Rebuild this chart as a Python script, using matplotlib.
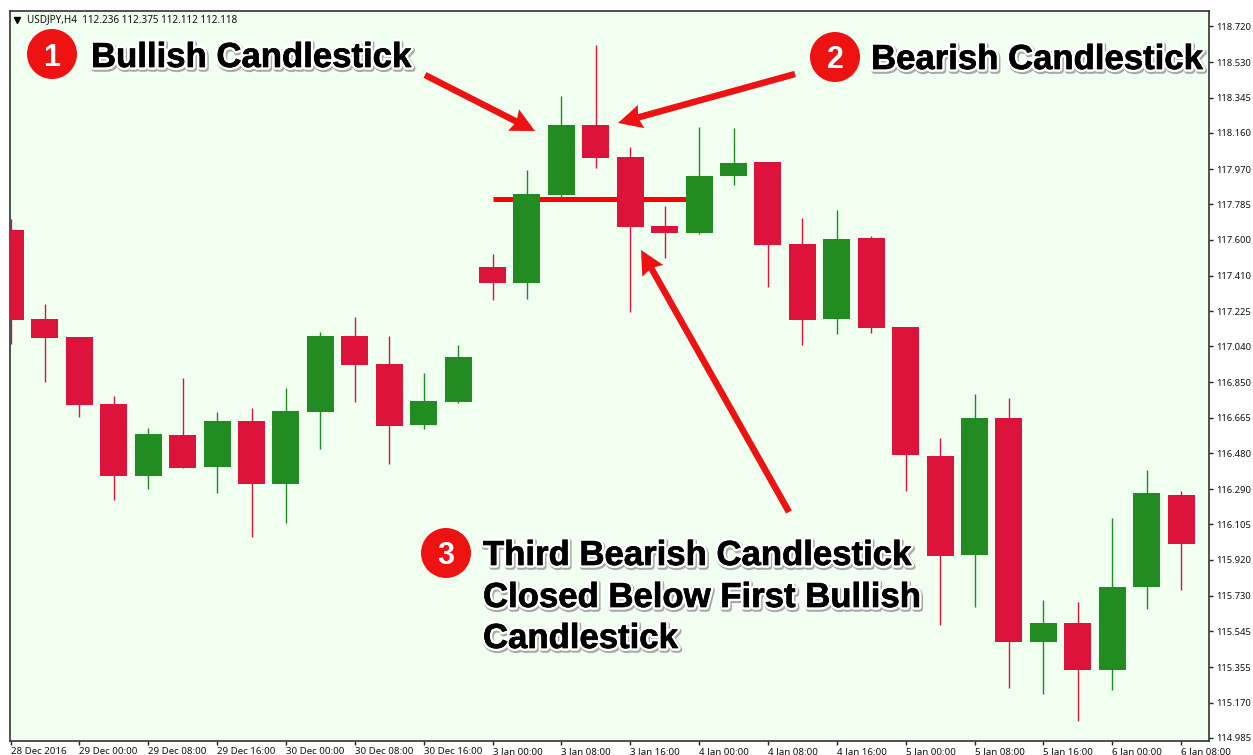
import matplotlib
matplotlib.use('Agg')
import matplotlib.pyplot as plt
import matplotlib.patheffects as pe
import numpy as np

# USDJPY H4 candles
opens = [117.650, 117.183, 117.088, 116.737, 116.359, 116.574, 116.407, 116.648, 116.317,
         116.695, 117.094, 116.947, 116.627, 116.748, 117.456, 117.372, 117.833, 118.201,
         118.033, 117.671, 117.634, 117.933, 118.007, 117.576, 117.183, 117.608, 117.141,
         116.464, 115.945, 116.664, 115.488, 115.588, 115.342, 115.777, 116.260]
highs = [117.708, 117.262, 117.088, 116.779, 116.611, 116.873, 116.695, 116.716, 116.821,
         117.115, 117.193, 117.094, 116.900, 117.047, 117.524, 117.965, 118.353, 118.620,
         118.085, 117.776, 118.190, 118.185, 118.007, 117.713, 117.755, 117.618, 117.141,
         116.559, 116.789, 116.768, 115.709, 115.698, 116.139, 116.391, 116.281]
lows = [117.052, 116.852, 116.669, 116.233, 116.291, 116.401, 116.270, 116.039, 116.113,
        116.501, 116.748, 116.422, 116.606, 116.742, 117.283, 117.288, 117.823, 117.975,
        117.220, 117.503, 117.629, 117.886, 117.351, 117.047, 117.104, 117.109, 116.281,
        115.578, 115.672, 115.247, 115.216, 115.074, 115.237, 115.662, 115.761]
closes = [117.178, 117.083, 116.732, 116.359, 116.580, 116.401, 116.648, 116.317, 116.700,
          117.094, 116.942, 116.622, 116.753, 116.984, 117.372, 117.839, 118.201, 118.028,
          117.666, 117.634, 117.933, 118.001, 117.571, 117.178, 117.603, 117.136, 116.469,
          115.940, 116.664, 115.488, 115.588, 115.342, 115.777, 116.270, 116.003]

level = 117.811  # close of the first bullish candle
level_from = 14
level_to = 20

y_ticks = [118.720, 118.530, 118.345, 118.160, 117.970, 117.785, 117.600, 117.410, 117.225,
           117.040, 116.850, 116.665, 116.480, 116.290, 116.105, 115.920, 115.730, 115.545,
           115.355, 115.170, 114.985]
x_labels = ['28 Dec 2016', '29 Dec 00:00', '29 Dec 08:00', '29 Dec 16:00', '30 Dec 00:00',
            '30 Dec 08:00', '30 Dec 16:00', '3 Jan 00:00', '3 Jan 08:00', '3 Jan 16:00',
            '4 Jan 00:00', '4 Jan 08:00', '4 Jan 16:00', '5 Jan 00:00', '5 Jan 08:00',
            '5 Jan 16:00', '6 Jan 00:00', '6 Jan 08:00']

GREEN = '#228B22'
CRIMSON = '#DC143C'
RED = '#EE1212'
W, H = 1253, 755

plt.rcParams['font.family'] = ['Noto Sans', 'DejaVu Sans']

fig = plt.figure(figsize=(W / 100, H / 100), dpi=100, facecolor='white')
ax = fig.add_axes([10 / W, 1 - 741 / H, 1199 / W, 730 / H], facecolor='#F0FFF0')

x = np.arange(len(opens))
o, h, l, c = map(np.array, (opens, highs, lows, closes))
colors = [GREEN if cl > op else CRIMSON for op, cl in zip(opens, closes)]

ax.hlines(level, level_from, level_to, color='#FF0000', linewidth=3.6, zorder=1)
ax.vlines(x, l, h, color=colors, linewidth=1.0, zorder=2)
ax.bar(x, np.abs(c - o), bottom=np.minimum(o, c), width=0.784, color=colors, zorder=3)

ax.set_xlim(-0.015, 34.81)
ax.set_ylim(114.969, 118.799)

ax.yaxis.tick_right()
ax.set_yticks(y_ticks)
ax.set_yticklabels([f'{v:.3f}' for v in y_ticks])
ax.set_xticks(x[::2])
ax.set_xticklabels(x_labels, ha='left')
ax.tick_params(axis='both', length=3, width=1, color='#222222', labelsize=6.8,
               labelcolor='#111111', pad=2)
ax.tick_params(axis='x', pad=1.5, labelsize=7)
for s in ax.spines.values():
    s.set_color('#333333')
    s.set_linewidth(1.2)

# overlay in picture pixels for the annotations
ov = fig.add_axes([0, 0, 1, 1], facecolor='none')
ov.set_xlim(0, W)
ov.set_ylim(H, 0)
ov.axis('off')

ov.text(27, 19.5, 'USDJPY,H4  112.236 112.375 112.112 112.118', fontsize=7.15,
        color='#111111', va='center', ha='left')
ov.plot([17], [19.5], marker='v', markersize=4.5, color='black')

arrows = [((425, 75), (535, 131)), ((795, 74), (618, 123)), ((789, 512), (641, 250))]
for (x0, y0), (x1, y1) in arrows:
    ov.arrow(x0, y0, x1 - x0, y1 - y0, width=6.5, head_width=24, head_length=24, overhang=0.1,
             length_includes_head=True, color=RED, linewidth=0)

effects = [pe.Stroke(linewidth=4.5, foreground='#a8a8a8', offset=(0.8, -1.2)),
           pe.Stroke(linewidth=4, foreground='white'),
           pe.Stroke(linewidth=0.5, foreground='black'),
           pe.Normal()]

badges = [(52, 54, '1'), (835, 57, '2'), (446, 553, '3')]
for bx, by, num in badges:
    ov.add_patch(plt.Circle((bx, by), 25, color=RED, linewidth=0))
    ov.text(bx, by + 11.5, num, color='white', fontsize=22, fontweight='bold',
            family='Liberation Sans', ha='center', va='baseline')

labels = [(91, 67, 'Bullish Candlestick'),
          (871, 69, 'Bearish Candlestick'),
          (483, 565, 'Third Bearish Candlestick'),
          (483, 607, 'Closed Below First Bullish'),
          (483, 648, 'Candlestick')]
for tx, ty, s in labels:
    ov.text(tx, ty, s, color='black', fontsize=25, fontweight='bold',
            family='Liberation Sans', ha='left', va='baseline', path_effects=effects)

fig.savefig('out.png', dpi=100)
